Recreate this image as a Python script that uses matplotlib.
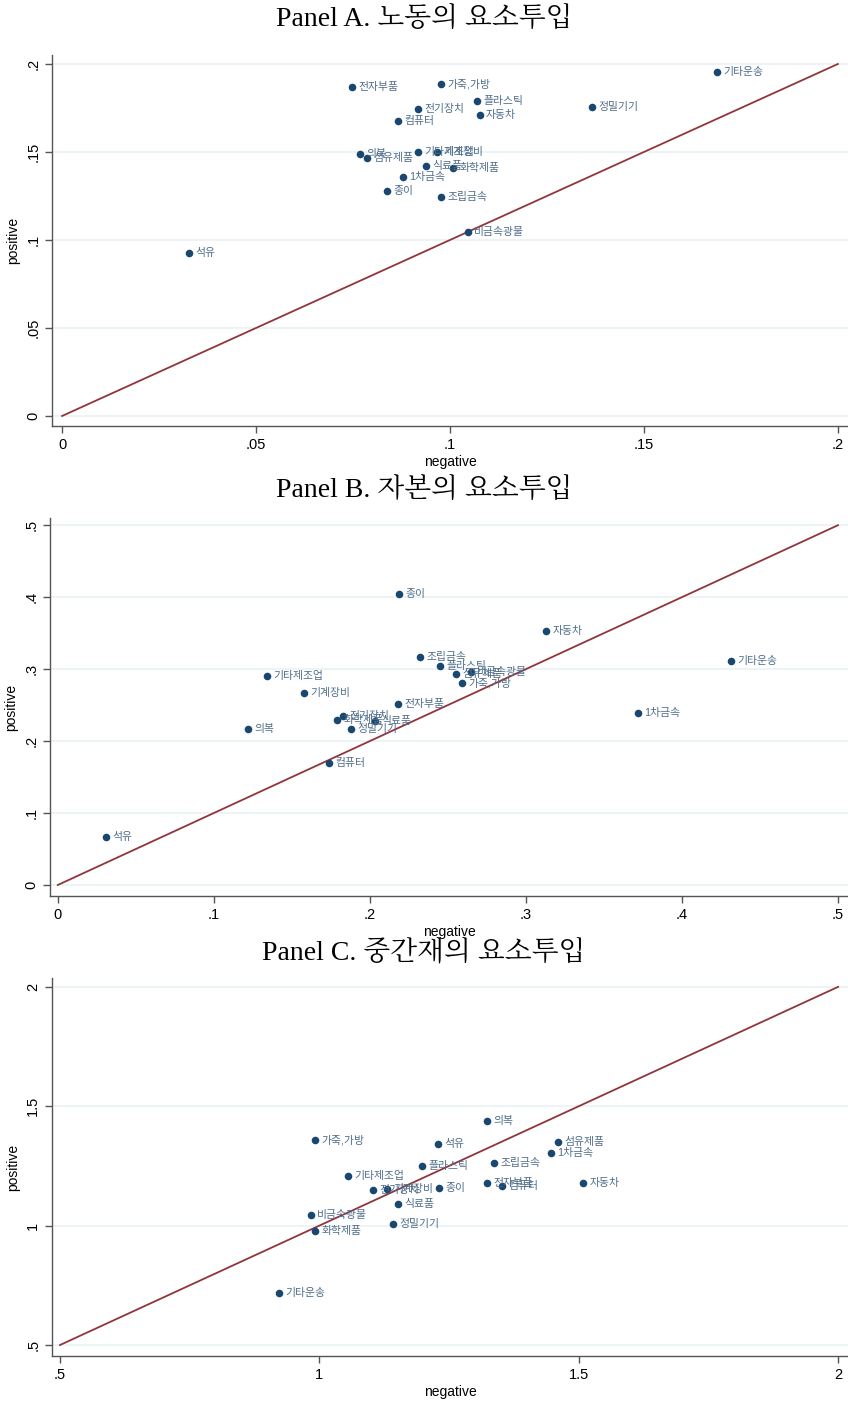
import matplotlib
matplotlib.use("Agg")
import matplotlib.pyplot as plt
import numpy as np

plt.rcParams['font.family'] = ['Liberation Sans', 'Noto Sans CJK KR']

# Panel A: labour
a_names = ["석유", "전자부품", "가죽,가방", "플라스틱", "자동차", "전기장치", "컴퓨터", "정밀기기",
           "기타운송", "의복", "섬유제품", "기타제조업", "기계장비", "식료품", "화학제품",
           "1차금속", "종이", "조립금속", "비금속광물"]
a_neg = [0.0327, 0.0747, 0.0977, 0.107, 0.1077, 0.0918, 0.0866, 0.1366,
         0.1688, 0.0768, 0.0786, 0.0918, 0.0966, 0.0938, 0.1008,
         0.0879, 0.0838, 0.0977, 0.1046]
a_pos = [0.0926, 0.187, 0.1886, 0.179, 0.171, 0.1744, 0.1676, 0.1756,
         0.1955, 0.1489, 0.1466, 0.150, 0.150, 0.142, 0.141,
         0.1358, 0.1278, 0.1244, 0.1045]

# Panel B: capital
b_names = ["종이", "자동차", "기타운송", "조립금속", "플라스틱", "비금속광물", "섬유제품", "가죽,가방",
           "1차금속", "기타제조업", "기계장비", "전자부품", "전기장치", "화학제품", "식료품",
           "정밀기기", "의복", "컴퓨터", "석유"]
b_neg = [0.2186, 0.3128, 0.4314, 0.232, 0.2449, 0.2647, 0.2551, 0.259,
         0.3718, 0.134, 0.1577, 0.218, 0.1827, 0.1788, 0.2032,
         0.1878, 0.1218, 0.1737, 0.0308]
b_pos = [0.404, 0.3528, 0.311, 0.3167, 0.304, 0.2958, 0.293, 0.2806,
         0.2389, 0.2903, 0.2667, 0.2514, 0.2347, 0.2292, 0.2278,
         0.2167, 0.2167, 0.1694, 0.0667]

# Panel C: intermediate goods
c_names = ["의복", "가죽,가방", "석유", "섬유제품", "1차금속", "플라스틱", "조립금속", "기타제조업",
           "전기장치", "기계장비", "종이", "전자부품", "컴퓨터", "자동차", "식료품",
           "비금속광물", "정밀기기", "화학제품", "기타운송"]
c_neg = [1.323, 0.992, 1.229, 1.460, 1.447, 1.198, 1.337, 1.055,
         1.103, 1.130, 1.231, 1.323, 1.352, 1.508, 1.152,
         0.984, 1.142, 0.992, 0.922]
c_pos = [1.438, 1.359, 1.342, 1.350, 1.304, 1.250, 1.262, 1.208,
         1.149, 1.154, 1.158, 1.179, 1.166, 1.179, 1.091,
         1.045, 1.007, 0.978, 0.718]

panels = [
    dict(title="Panel A. 노동의 요소투입", names=a_names, x=a_neg, y=a_pos,
         ticks=[0, 0.05, 0.1, 0.15, 0.2], labels=["0", ".05", ".1", ".15", ".2"],
         xlim=(-0.0026, 0.2026), ylim=(-0.0057, 0.2051), line=(0, 0.2),
         rect=[52/848, 1-426/1402, 796/848, 371/1402], title_y=19),
    dict(title="Panel B. 자본의 요소투입", names=b_names, x=b_neg, y=b_pos,
         ticks=[0, 0.1, 0.2, 0.3, 0.4, 0.5], labels=["0", ".1", ".2", ".3", ".4", ".5"],
         xlim=(-0.005, 0.5064), ylim=(-0.0153, 0.51), line=(0, 0.5),
         rect=[50/848, 1-896/1402, 798/848, 378/1402], title_y=490),
    dict(title="Panel C. 중간재의 요소투입", names=c_names, x=c_neg, y=c_pos,
         ticks=[0.5, 1, 1.5, 2], labels=[".5", "1", "1.5", "2"],
         xlim=(0.4846, 2.019), ylim=(0.454, 2.037), line=(0.5, 2.0),
         rect=[52/848, 1-1356/1402, 796/848, 378/1402], title_y=952),
]

fig = plt.figure(figsize=(8.48, 14.02), dpi=100)
fig.patch.set_facecolor("white")

navy = "#1a476f"
lab_col = "#4f6d8a"
red = "#90353b"
grid_col = "#eaf2f3"

for p in panels:
    ax = fig.add_axes(p["rect"])
    ax.set_xlim(*p["xlim"])
    ax.set_ylim(*p["ylim"])
    lo, hi = p["line"]
    ax.plot([lo, hi], [lo, hi], color=red, lw=1.3, zorder=2)
    ax.scatter(p["x"], p["y"], s=30, color=navy, zorder=3, linewidths=0)
    for n, xv, yv in zip(p["names"], p["x"], p["y"]):
        ax.annotate(n, (xv, yv), xytext=(4.5, 0), textcoords="offset points",
                    va="center", ha="left", fontsize=7.8, color=lab_col, zorder=4)
    ax.set_xticks(p["ticks"])
    ax.set_xticklabels(p["labels"], fontsize=10.5)
    ax.set_yticks(p["ticks"])
    ax.set_yticklabels(p["labels"], fontsize=10.5, rotation=90, va="center")
    ax.grid(axis="y", color=grid_col, lw=1.2)
    ax.set_axisbelow(True)
    for s in ["top", "right"]:
        ax.spines[s].set_visible(False)
    for s in ["left", "bottom"]:
        ax.spines[s].set_color("#555555")
        ax.spines[s].set_linewidth(1.0)
    ax.tick_params(direction="out", length=5, color="#555555", width=1.0)
    ax.set_xlabel("negative", fontsize=10, labelpad=2)
    ax.set_ylabel("positive", fontsize=10, labelpad=4)
    fig.text(0.5, 1 - p["title_y"]/1402, p["title"], ha="center", va="center",
             fontsize=20, family=["Liberation Serif", "Noto Serif CJK KR", "Noto Sans CJK KR"])

fig.savefig("out.png", dpi=100, facecolor="white")
